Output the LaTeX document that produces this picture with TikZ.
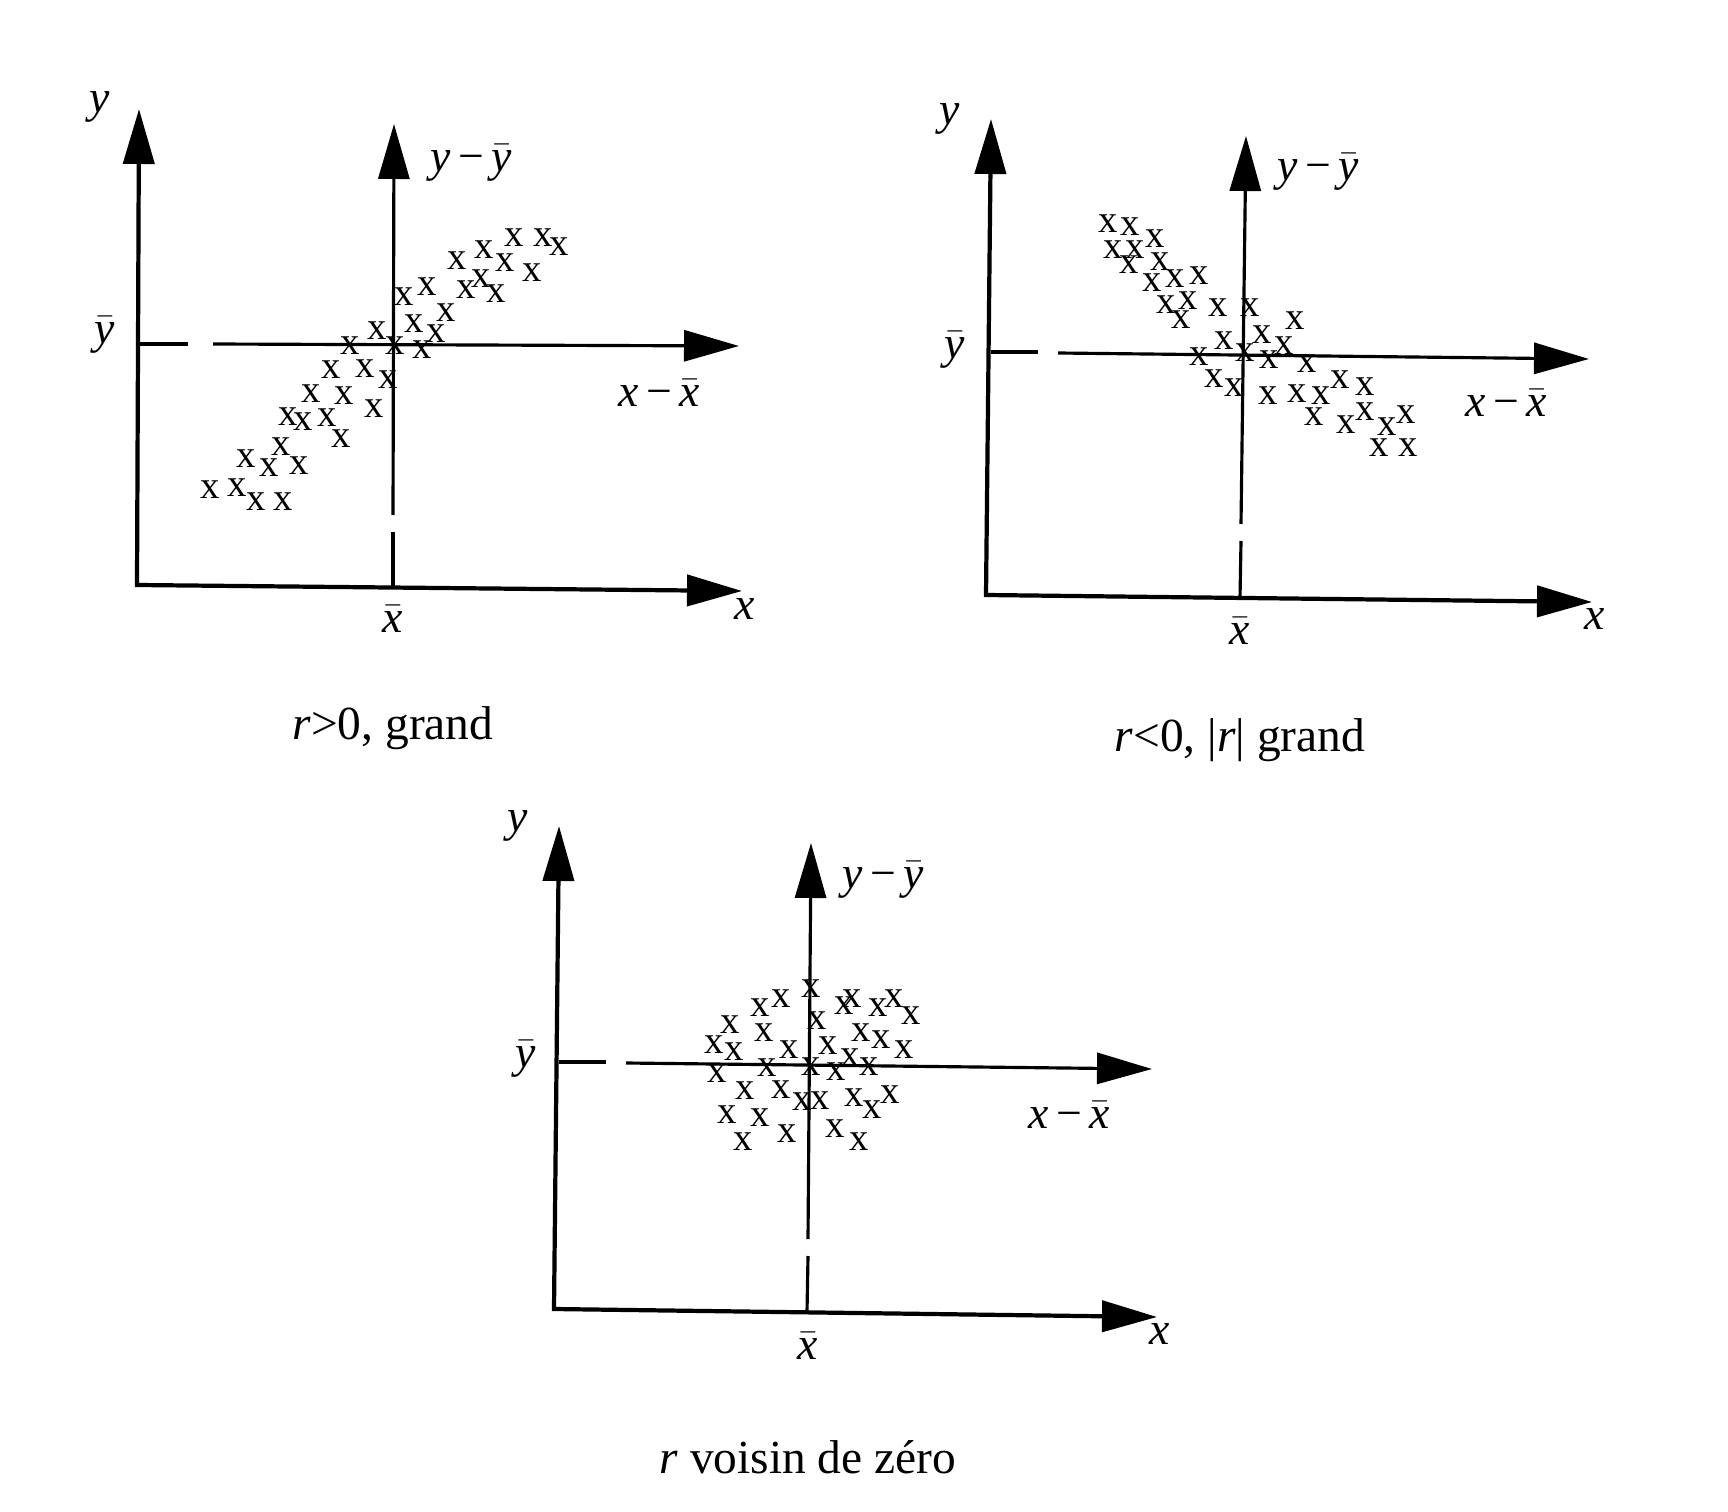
\documentclass[tikz,border=0pt]{standalone}
\usepackage{fontspec}
\setmainfont{Liberation Serif}
\usetikzlibrary{arrows.meta,positioning}
\newcommand{\mbar}[1]{\ensuremath{\bar{\textit{#1}}}}
\tikzset{%
   axes/.style={
      line width=1.2pt,
      {Triangle[length=5.5mm,width=3.1mm]}-{Triangle[length=5.5mm,width=3.1mm]}
   },
   cax/.style={
      line width=0.9pt,
      -{Triangle[length=5.5mm,width=3.1mm]}
   },
   cax0/.style={
      line width=0.9pt
   },
   pt/.style={
      inner sep=0pt,
      font=\fontsize{11}{11}\selectfont
   },
   lbl/.style={
      inner sep=0pt,
      font=\fontsize{13}{13}\selectfont
   },
   capt/.style={
      inner sep=0pt,
      font=\fontsize{13.5}{13.5}\selectfont
   },
}
\begin{document}
\begin{tikzpicture}[x=0.1mm, y=-0.1mm]
   \useasboundingbox (0,0) rectangle (1728,1512);
   % r > 0
   \coordinate (o1) at (137,585);
   \coordinate (y1) at (139,109);
   \coordinate (x1) at (742,591);
   \draw[axes] (y1) -- (o1) -- (x1);
   \coordinate (v1a) at (393,588);
   \coordinate (v1b) at (393,532);
   \coordinate (v1c) at (393,515);
   \coordinate (v1d) at (394,124);
   \draw[cax0] (v1a) -- (v1b);
   \draw[cax] (v1c) -- (v1d);
   \coordinate (h1a) at (139,344);
   \coordinate (h1b) at (188,344);
   \coordinate (h1c) at (213,344);
   \coordinate (h1d) at (739,346);
   \draw[cax0] (h1a) -- (h1b);
   \draw[cax] (h1c) -- (h1d);
   \node[lbl] (ly1) at (100,107) {\textit{y}};
   \node[lbl] (lyc1) at (471,163) {\textit{y}\,−\,\mbar{y}};
   \node[lbl] (lyb1) at (105,335) {\mbar{y}};
   \node[lbl] (lxc1) at (659,393) {\textit{x}\,−\,\mbar{x}};
   \node[lbl] (lx1) at (745,609) {\textit{x}};
   \node[lbl] (lxb1) at (393,619) {\mbar{x}};
   \node[capt] (c1) at (393,728) {\textit{r}>0, grand};
   \foreach \p [count=\i] in {(210,490),(237,488),(256,502),(283,502),(246,459),
      (269,468),(281,447),(299,466),(288,417),(303,422),(327,418),(341,439),
      (311,394),(344,396),(374,409),(331,370),(365,369),(388,380),(350,346),
      (377,331),(395,346),(414,324),(436,334),(422,350),(404,297),(427,287),
      (446,313),(457,261),(484,250),(505,263),(532,273),(466,290),(481,279),
      (496,294),(514,238),(543,238),(559,247)}
      \node[pt] (ma\i) at \p {x};
   % r < 0
   \coordinate (o2) at (986,595);
   \coordinate (y2) at (991,119);
   \coordinate (x2) at (1592,602);
   \draw[axes] (y2) -- (o2) -- (x2);
   \coordinate (v2a) at (1240,598);
   \coordinate (v2b) at (1241,541);
   \coordinate (v2c) at (1241,524);
   \coordinate (v2d) at (1246,136);
   \draw[cax0] (v2a) -- (v2b);
   \draw[cax] (v2c) -- (v2d);
   \coordinate (h2a) at (991,352);
   \coordinate (h2b) at (1038,352);
   \coordinate (h2c) at (1058,353);
   \coordinate (h2d) at (1589,359);
   \draw[cax0] (h2a) -- (h2b);
   \draw[cax] (h2c) -- (h2d);
   \node[lbl] (ly2) at (950,119) {\textit{y}};
   \node[lbl] (lyc2) at (1318,172) {\textit{y}\,−\,\mbar{y}};
   \node[lbl] (lyb2) at (955,350) {\mbar{y}};
   \node[lbl] (lxc2) at (1506,403) {\textit{x}\,−\,\mbar{x}};
   \node[lbl] (lx2) at (1595,619) {\textit{x}};
   \node[lbl] (lxb2) at (1240,631) {\mbar{x}};
   \node[capt] (c2) at (1240,740) {\textit{r}<0, |\textit{r}| grand};
   \foreach \p [count=\i] in {(1108,224),(1130,227),(1155,239),(1113,250),
      (1135,250),(1129,265),(1160,262),(1152,283),(1175,279),(1199,276),
      (1166,305),(1188,301),(1181,320),(1218,308),(1250,308),(1295,321),
      (1224,341),(1262,335),(1284,346),(1199,357),(1245,353),(1269,360),
      (1307,364),(1214,379),(1234,388),(1268,396),(1297,394),(1321,396),
      (1340,380),(1365,387),(1314,417),(1346,425),(1365,412),(1387,427),
      (1406,415),(1379,448),(1408,448)}
      \node[pt] (mb\i) at \p {x};
   % r ~ 0
   \coordinate (o3) at (554,1309);
   \coordinate (y3) at (559,826);
   \coordinate (x3) at (1157,1317);
   \draw[axes] (y3) -- (o3) -- (x3);
   \coordinate (v3a) at (807,1312);
   \coordinate (v3b) at (808,1256);
   \coordinate (v3c) at (808,1239);
   \coordinate (v3d) at (811,843);
   \draw[cax0] (v3a) -- (v3b);
   \draw[cax] (v3c) -- (v3d);
   \coordinate (h3a) at (559,1062);
   \coordinate (h3b) at (606,1062);
   \coordinate (h3c) at (626,1063);
   \coordinate (h3d) at (1152,1069);
   \draw[cax0] (h3a) -- (h3b);
   \draw[cax] (h3c) -- (h3d);
   \node[lbl] (ly3) at (518,826) {\textit{y}};
   \node[lbl] (lyc3) at (883,880) {\textit{y}\,−\,\mbar{y}};
   \node[lbl] (lyb3) at (526,1059) {\mbar{y}};
   \node[lbl] (lxc3) at (1069,1115) {\textit{x}\,−\,\mbar{x}};
   \node[lbl] (lx3) at (1160,1334) {\textit{x}};
   \node[lbl] (lxb3) at (808,1346) {\mbar{x}};
   \node[capt] (c3) at (808,1457) {\textit{r} voisin de zéro};
   \foreach \p [count=\i] in {(781,999),(811,989),(760,1008),(844,1006),
      (852,999),(878,1008),(894,999),(911,1016),(730,1025),(764,1033),
      (817,1021),(861,1033),(881,1040),(904,1050),(714,1045),(734,1052),
      (789,1050),(828,1046),(850,1058),(869,1067),(717,1074),(767,1068),
      (811,1067),(836,1072),(745,1091),(781,1090),(802,1102),(820,1101),
      (854,1098),(872,1110),(890,1095),(727,1115),(760,1118),(787,1134),
      (835,1129),(743,1142),(859,1142)}
      \node[pt] (mc\i) at \p {x};
\end{tikzpicture}
\end{document}
